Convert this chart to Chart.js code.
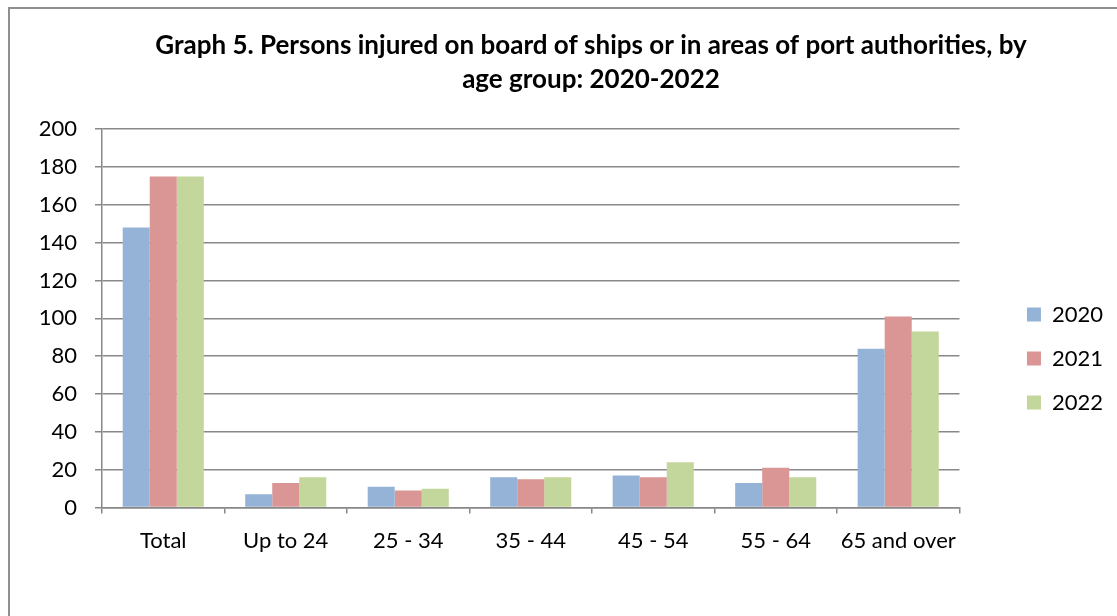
<!DOCTYPE html>
<html>
<head>
<meta charset="utf-8">
<script src="https://cdn.jsdelivr.net/npm/chart.js@4.4.0/dist/chart.umd.min.js"></script>
<style>
  body { margin: 0; background: #fff; }
  #wrap { position: relative; width: 1117px; height: 616px; overflow: hidden; }
  #frame { position: absolute; left: 8px; top: 7px; width: 1200px; height: 700px;
           border-left: 2px solid #8f8f8f; border-top: 2px solid #8f8f8f; }
  canvas { position: absolute; left: 0; top: 0; }
</style>
</head>
<body>
<div id="wrap">
  <div id="frame"></div>
  <canvas id="graph5" width="1117" height="616"></canvas>
</div>
<script>
const categories = ['Total', 'Up to 24', '25 - 34', '35 - 44', '45 - 54', '55 - 64', '65 and over'];
const years = ['2020', '2021', '2022'];
const injured2020 = [148, 7, 11, 16, 17, 13, 84];
const injured2021 = [175, 13, 9, 15, 16, 21, 101];
const injured2022 = [175, 16, 10, 16, 24, 16, 93];
const yMin = 0, yMax = 200, yStep = 20;

const colors = ['#95B3D7', '#D99694', '#C3D69B'];
const gridColor = '#888888';

// empty axes only used to push the legend away from the plot
function spacer(w, weight) {
    return {
        type: 'linear', position: 'right', display: true, weight: weight,
        grid: { display: false }, border: { display: false }, ticks: { display: false },
        afterFit: s => { s.width = w; }
    };
}

document.addEventListener('DOMContentLoaded', function () {
    const ctx = document.getElementById('graph5').getContext('2d');

    new Chart(ctx, {
        type: 'bar',
        data: {
            labels: categories,
            datasets: [injured2020, injured2021, injured2022].map((vals, i) => ({
                label: years[i],
                data: vals,
                backgroundColor: colors[i],
                borderWidth: 0,
                barPercentage: 1,
                categoryPercentage: 0.662
            }))
        },
        options: {
            responsive: false,
            animation: false,
            layout: { padding: { left: 30, right: -35, top: 0, bottom: 48 } },
            plugins: {
                title: {
                    display: true,
                    text: ['Graph 5. Persons injured on board of ships or in areas of port authorities, by',
                           'age group: 2020-2022'],
                    color: '#000',
                    font: { family: 'Lato', size: 26, weight: 'bold', lineHeight: 1.31 },
                    padding: { top: 29, bottom: 32 }
                },
                legend: {
                    position: 'right',
                    fullSize: false,
                    title: { display: true, text: '', padding: { top: 66, bottom: 0 }, font: { size: 12 } },
                    labels: {
                        boxWidth: 14,
                        boxHeight: 14,
                        padding: 22,
                        color: '#000',
                        font: { family: 'Lato', size: 22 }
                    }
                },
                tooltip: { enabled: false }
            },
            scales: {
                x: {
                    offset: true,
                    grid: { offset: true, drawOnChartArea: false, drawTicks: true, tickLength: 6, color: gridColor, lineWidth: 1.5 },
                    border: { display: true, color: gridColor, width: 1.5 },
                    ticks: { color: '#000', padding: 14, maxRotation: 0, font: { family: 'Lato', size: 22 } }
                },
                y: {
                    min: yMin,
                    max: yMax,
                    afterFit: s => { s.width = 72; },
                    grid: { color: gridColor, tickLength: 7, lineWidth: 1.5 },
                    border: { display: true, color: gridColor, width: 1.5 },
                    ticks: { stepSize: yStep, color: '#000', padding: 18, font: { family: 'Lato', size: 22 } }
                },
                gapInner: spacer(45.5, 0),
                gapOuter: spacer(39, 2000)
            }
        }
    });
});
</script>
</body>
</html>
